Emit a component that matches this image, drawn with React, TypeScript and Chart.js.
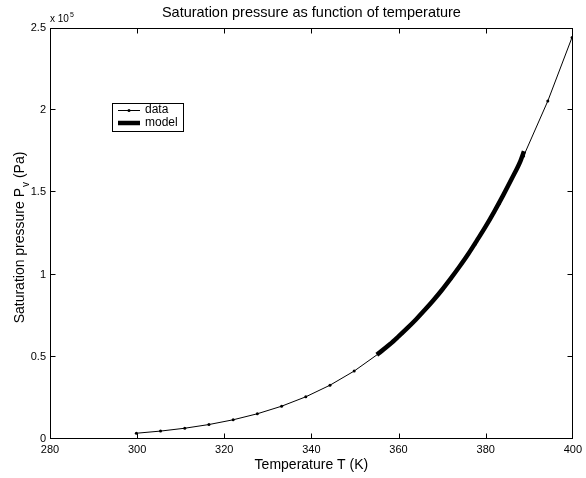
import React, { useEffect, useRef } from "react";
import { Chart, registerables } from "chart.js";

Chart.register(...registerables);

// Measured data: temperature (K) and saturation pressure (Pa)
const dataTempK = [
  299.82, 305.37, 310.93, 316.48, 322.04, 327.59, 333.15, 338.71, 344.26, 349.82,
  355.37, 360.93, 366.48, 372.04, 377.59, 383.15, 388.71, 394.26, 399.82,
];
const dataPressurePa = [
  3498, 4818, 6552, 8800, 11683, 15341, 19940, 25662, 32716, 41341,
  51814, 64417, 79490, 97424, 118521, 143273, 172161, 205600, 244280,
];

// Model curve
const modelTempK = [
  355, 356, 358, 360, 362, 364, 366, 368, 370, 372, 374, 376, 378, 380, 382, 384, 386, 388, 388.8,
];
const modelPressurePa = [
  51300, 53300, 57600, 62400, 67400, 72700, 78400, 84400, 90800, 97700, 104900, 112500,
  120800, 129300, 138500, 148200, 158400, 169200, 175000,
];

const xTicks = [280, 300, 320, 340, 360, 380, 400];
const yTicks = [0, 50000, 100000, 150000, 200000, 250000];
const yTickLabels = ["0", "0.5", "1", "1.5", "2", "2.5"];

const titleText = "Saturation pressure as function of temperature";
const xTitle = "Temperature T (K)";
const yTitleMain = "Saturation pressure P";
const yTitleSub = "v";
const yTitleEnd = " (Pa)";
const legendLabels = ["data", "model"];

const FONT = "'Liberation Sans', Arial, Helvetica, sans-serif";

const decorPlugin = {
  id: "decor",
  afterDraw(chart: any) {
    const ctx = chart.ctx as CanvasRenderingContext2D;
    const { left, right, top, bottom } = chart.chartArea;
    const xs = chart.scales.x;
    const ys = chart.scales.y;
    ctx.save();
    ctx.strokeStyle = "#000";
    ctx.lineWidth = 1;
    // box
    const bl = Math.round(left) + 0.5;
    const bt = Math.round(top) + 0.5;
    const br = Math.round(right) - 0.5;
    const bb = Math.round(bottom) - 0.5;
    ctx.strokeRect(bl, bt, br - bl, bb - bt);
    // inward ticks (interior ones; edge ticks coincide with the box)
    const tl = 5;
    ctx.beginPath();
    xTicks.slice(1, -1).forEach((v) => {
      const px = Math.round(xs.getPixelForValue(v)) + 0.5;
      ctx.moveTo(px, bb);
      ctx.lineTo(px, bb - tl);
      ctx.moveTo(px, bt);
      ctx.lineTo(px, bt + tl);
    });
    yTicks.slice(1, -1).forEach((v) => {
      const py = Math.round(ys.getPixelForValue(v)) - 0.5;
      ctx.moveTo(bl, py);
      ctx.lineTo(bl + tl, py);
      ctx.moveTo(br, py);
      ctx.lineTo(br - tl, py);
    });
    ctx.stroke();

    // x 10^5 exponent label
    ctx.fillStyle = "#000";
    ctx.textBaseline = "alphabetic";
    ctx.textAlign = "left";
    ctx.font = `10px ${FONT}`;
    const baseTxt = "x 10";
    ctx.fillText(baseTxt, left, top - 6);
    const w = ctx.measureText(baseTxt).width;
    ctx.font = `7px ${FONT}`;
    ctx.fillText("5", left + w + 1, top - 11);

    // y title with subscript
    const cy = (top + bottom) / 2 + 4;
    ctx.translate(20, cy);
    ctx.rotate(-Math.PI / 2);
    ctx.font = `14px ${FONT}`;
    const w1 = ctx.measureText(yTitleMain).width;
    const w3 = ctx.measureText(yTitleEnd).width;
    ctx.font = `10px ${FONT}`;
    const w2 = ctx.measureText(yTitleSub).width;
    const total = w1 + w2 + w3 + 1;
    const x0 = -total / 2;
    ctx.textBaseline = "middle";
    ctx.font = `14px ${FONT}`;
    ctx.fillText(yTitleMain, x0, 0);
    ctx.font = `10px ${FONT}`;
    ctx.fillText(yTitleSub, x0 + w1 + 1, 6);
    ctx.font = `14px ${FONT}`;
    ctx.fillText(yTitleEnd, x0 + w1 + w2 + 1, 0);
    ctx.setTransform(1, 0, 0, 1, 0, 0);

    // legend
    const lx = 112, ly = 103, lw = 71, lh = 28;
    ctx.fillStyle = "#fff";
    ctx.fillRect(lx, ly, lw, lh);
    ctx.strokeStyle = "#000";
    ctx.lineWidth = 1;
    ctx.strokeRect(lx + 0.5, ly + 0.5, lw, lh);
    // data sample
    ctx.beginPath();
    ctx.moveTo(118, 110.5);
    ctx.lineTo(140, 110.5);
    ctx.stroke();
    ctx.fillStyle = "#000";
    ctx.beginPath();
    ctx.arc(129, 110.5, 1.5, 0, Math.PI * 2);
    ctx.fill();
    // model sample
    ctx.lineWidth = 4.5;
    ctx.beginPath();
    ctx.moveTo(118, 123);
    ctx.lineTo(140, 123);
    ctx.stroke();
    ctx.font = `12px ${FONT}`;
    ctx.textBaseline = "middle";
    ctx.textAlign = "left";
    ctx.fillText(legendLabels[0], 145, 110);
    ctx.fillText(legendLabels[1], 145, 123);
    ctx.restore();
  },
};

export default function App() {
  const ref = useRef<HTMLCanvasElement | null>(null);
  useEffect(() => {
    if (!ref.current) return;
    const chart = new Chart(ref.current, {
      type: "scatter",
      data: {
        datasets: [
          {
            label: legendLabels[0],
            data: dataTempK.map((t, i) => ({ x: t, y: dataPressurePa[i] })),
            showLine: true,
            borderColor: "#000",
            backgroundColor: "#000",
            borderWidth: 1,
            pointRadius: 1.5,
            pointBorderWidth: 0,
            pointBackgroundColor: "#000",
            order: 2,
          },
          {
            label: legendLabels[1],
            data: modelTempK.map((t, i) => ({ x: t, y: modelPressurePa[i] })),
            showLine: true,
            borderColor: "#000",
            backgroundColor: "#000",
            borderWidth: 4.5,
            pointRadius: 0,
            cubicInterpolationMode: "monotone",
            order: 1,
          },
        ],
      },
      options: {
        responsive: false,
        animation: false,
        layout: { padding: { left: 0, right: 12, top: 0, bottom: 0 } },
        plugins: {
          legend: { display: false },
          tooltip: { enabled: false },
          title: {
            display: true,
            text: titleText,
            color: "#000",
            fullSize: false,
            font: { family: FONT, size: 14.5, weight: "normal" },
            padding: { top: 4.5, bottom: 6.1 },
          },
        },
        scales: {
          x: {
            type: "linear",
            min: 280,
            max: 400,
            grid: { display: false, drawTicks: false },
            border: { display: false },
            afterBuildTicks: (s: any) => {
              s.ticks = xTicks.map((v) => ({ value: v }));
            },
            afterFit: (s: any) => {
              s.height = 39;
            },
            ticks: {
              color: "#000",
              font: { family: FONT, size: 11 },
              padding: 4,
              maxRotation: 0,
              autoSkip: false,
            },
            title: {
              display: true,
              text: xTitle,
              color: "#000",
              font: { family: FONT, size: 14 },
              padding: { top: 0, bottom: 4 },
            },
          },
          y: {
            type: "linear",
            min: 0,
            max: 250000,
            grid: { display: false, drawTicks: false },
            border: { display: false },
            afterBuildTicks: (s: any) => {
              s.ticks = yTicks.map((v) => ({ value: v }));
            },
            afterFit: (s: any) => {
              s.width = 50;
            },
            ticks: {
              color: "#000",
              font: { family: FONT, size: 11 },
              padding: 4,
              autoSkip: false,
              callback: (v: any) => {
                const i = yTicks.indexOf(Number(v));
                return i >= 0 ? yTickLabels[i] : "";
              },
            },
          },
        },
      },
      plugins: [decorPlugin],
    });
    return () => chart.destroy();
  }, []);
  return (
    <div style={{ position: "fixed", left: 0, top: 0, width: 586, height: 478, background: "#fff" }}>
      <canvas ref={ref} width={586} height={478} style={{ display: "block" }} />
    </div>
  );
}
